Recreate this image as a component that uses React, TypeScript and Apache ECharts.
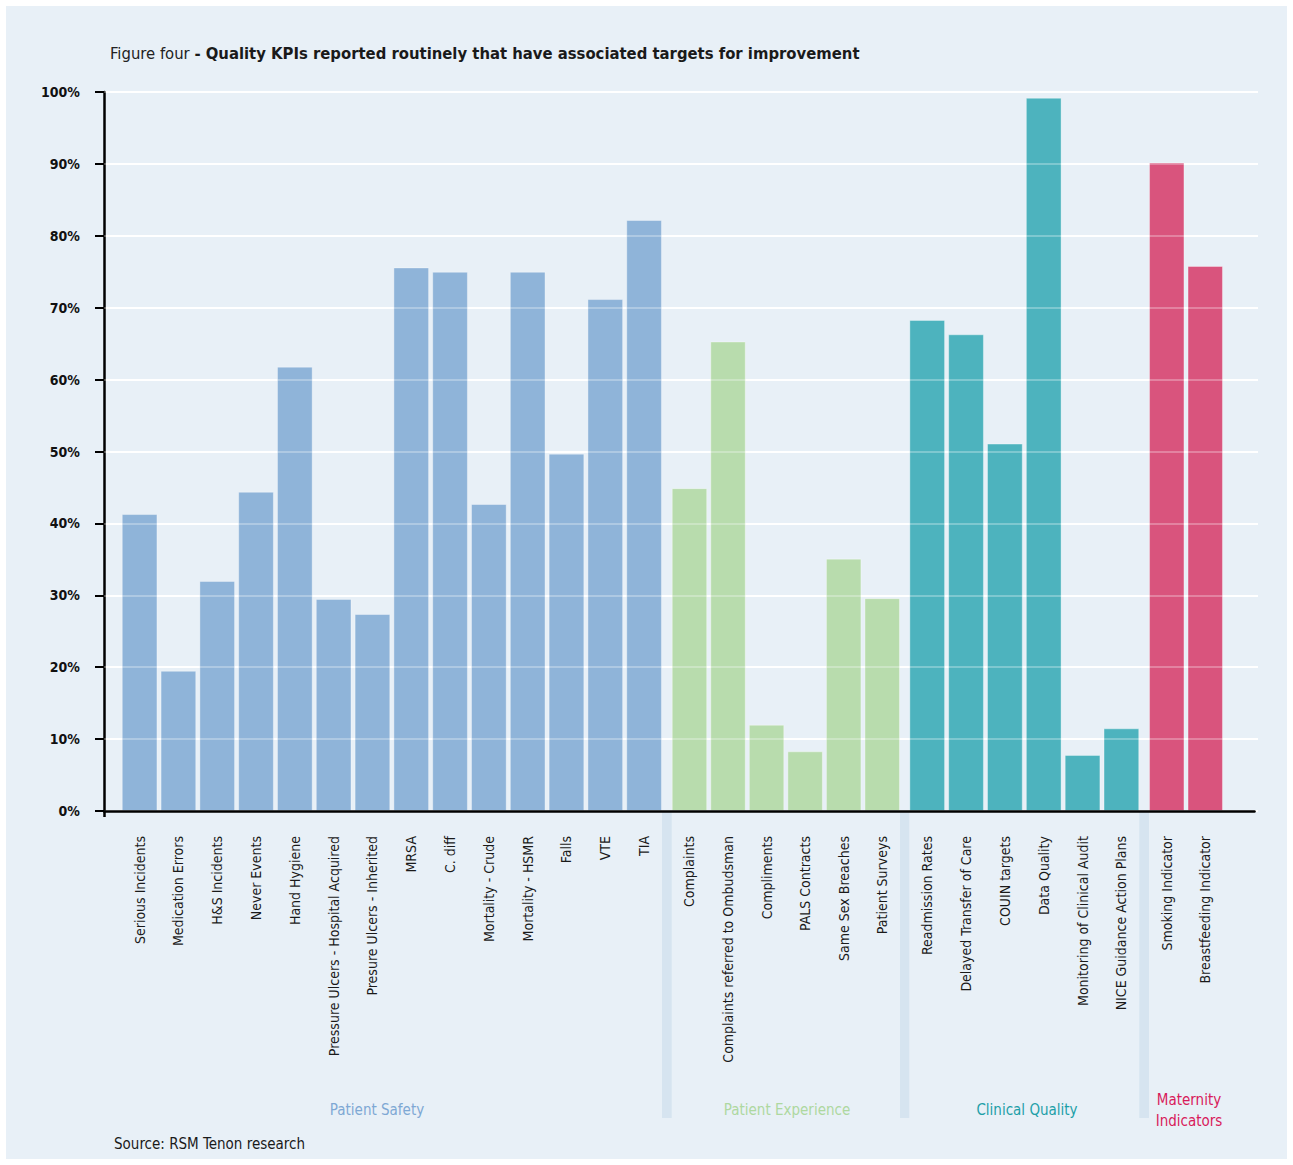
import React, { useEffect, useRef } from "react";
import * as echarts from "echarts";

// Category names and shares (%) per KPI group
const safetyLabels = [
  "Serious Incidents",
  "Medication Errors",
  "H&S Incidents",
  "Never Events",
  "Hand Hygiene",
  "Pressure Ulcers - Hospital Acquired",
  "Presure Ulcers - Inherited",
  "MRSA",
  "C. diff",
  "Mortality - Crude",
  "Mortality - HSMR",
  "Falls",
  "VTE",
  "TIA",
];
const safetyValues = [41.3, 19.5, 32.0, 44.4, 61.8, 29.5, 27.4, 75.6, 75.0, 42.7, 75.0, 49.7, 71.2, 82.2];

const experienceLabels = [
  "Complaints",
  "Complaints referred to Ombudsman",
  "Compliments",
  "PALS Contracts",
  "Same Sex Breaches",
  "Patient Surveys",
];
const experienceValues = [44.9, 65.3, 12.0, 8.3, 35.1, 29.6];

const clinicalLabels = [
  "Readmission Rates",
  "Delayed Transfer of Care",
  "COUIN targets",
  "Data Quality",
  "Monitoring of Clinical Audit",
  "NICE Guidance Action Plans",
];
const clinicalValues = [68.3, 66.3, 51.1, 99.2, 7.8, 11.5];

const maternityLabels = ["Smoking Indicator", "Breastfeeding Indicator"];
const maternityValues = [90.2, 75.8];

const groupNames = ["Patient Safety", "Patient Experience", "Clinical Quality", "Maternity\nIndicators"];
const groupColors = ["#8fb4d9", "#b8dcad", "#4db3be", "#d9547d"];
const groupLabelColors = ["#7ea8d4", "#aed8a0", "#1d9fa8", "#d81b5b"];

const FONT = "'Liberation Sans Narrow','DejaVu Sans Condensed','Roboto Condensed',sans-serif";

const W = 1293;
const H = 1165;
const PLOT_TOP = 92;
const PLOT_BOTTOM = 811;
const AXIS_X = 104;

// horizontal extents of each group's bar strip (left edge, width)
const groupBoxes = [
  { left: 120.2, width: 543.3 },
  { left: 670.2, width: 231.3 },
  { left: 907.8, width: 233.0 },
  { left: 1147.5, width: 77.0 },
];
const groupLabelX = [377, 787, 1027, 1189];

export default function App() {
  const ref = useRef<HTMLDivElement>(null);

  useEffect(() => {
    document.body.style.margin = "0";
    if (!ref.current) return;
    const chart = echarts.init(ref.current, null, { renderer: "svg" });

    const labels = [safetyLabels, experienceLabels, clinicalLabels, maternityLabels];
    const values = [safetyValues, experienceValues, clinicalValues, maternityValues];

    const gridBottom = H - PLOT_BOTTOM;

    const grids: any[] = [
      // main frame: y axis, gridlines
      { left: AXIS_X, right: W - 1258, top: PLOT_TOP, bottom: gridBottom, outerBoundsMode: "none" },
      // x axis baseline
      { left: AXIS_X, right: W - 1254.5, top: PLOT_TOP, bottom: gridBottom, outerBoundsMode: "none" },
    ];
    const xAxes: any[] = [
      { gridIndex: 0, type: "value", min: 0, max: 1, show: false },
      {
        gridIndex: 1,
        type: "value",
        min: 0,
        max: 1,
        z: 6,
        axisLine: { show: true, lineStyle: { color: "#000", width: 2.5 } },
        axisTick: { show: true, customValues: [0], length: 6, lineStyle: { color: "#000", width: 2.5 } },
        axisLabel: { show: false },
        splitLine: { show: false },
      },
    ];
    const yAxes: any[] = [
      {
        gridIndex: 0,
        type: "value",
        min: 0,
        max: 100,
        interval: 10,
        axisLine: { show: true, lineStyle: { color: "#000", width: 2.5 } },
        axisTick: { show: true, inside: false, length: 9, lineStyle: { color: "#000", width: 2 } },
        axisLabel: {
          formatter: "{value}%",
          color: "#111",
          fontSize: 14,
          fontWeight: 600,
          fontFamily: FONT,
          margin: 24,
        },
        splitLine: { show: true, lineStyle: { color: "#ffffff", width: 2 } },
      },
      {
        // faint gridlines drawn over the bars
        gridIndex: 0,
        type: "value",
        min: 0,
        max: 100,
        interval: 10,
        z: 5,
        axisLine: { show: false },
        axisTick: { show: false },
        axisLabel: { show: false },
        splitLine: { show: true, lineStyle: { color: "rgba(255,255,255,0.28)", width: 2 } },
      },
      { gridIndex: 1, type: "value", min: 0, max: 100, show: false },
    ];
    const series: any[] = [];
    const graphics: any[] = [];

    groupBoxes.forEach((box, i) => {
      const gi = grids.length;
      grids.push({
        left: box.left,
        width: box.width,
        top: PLOT_TOP,
        bottom: gridBottom,
        outerBoundsMode: "none",
      });
      xAxes.push({
        gridIndex: gi,
        type: "category",
        data: labels[i],
        axisLine: { show: false },
        axisTick: { show: false },
        splitLine: { show: false },
        axisLabel: {
          interval: 0,
          rotate: 90,
          margin: 25,
          color: "#1a1a1a",
          fontSize: 14,
          fontFamily: FONT,
        },
      });
      yAxes.push({ gridIndex: gi, type: "value", min: 0, max: 100, show: false });
      series.push({
        type: "bar",
        name: groupNames[i],
        xAxisIndex: xAxes.length - 1,
        yAxisIndex: yAxes.length - 1,
        data: values[i],
        barCategoryGap: "8%",
        itemStyle: {
          color: groupColors[i],
          borderColor: "rgba(255,255,255,0.35)",
          borderWidth: 1,
        },
      });

      // vertical separator band below the axis between groups
      if (i < groupBoxes.length - 1) {
        const next = groupBoxes[i + 1];
        const x0 = box.left + box.width - 1.5;
        const x1 = next.left + 1.5;
        graphics.push({
          type: "rect",
          z: 1,
          shape: { x: x0, y: PLOT_BOTTOM + 1, width: x1 - x0, height: 1118 - PLOT_BOTTOM - 1 },
          style: { fill: "#d6e4f0" },
        });
      }

      graphics.push({
        type: "text",
        z: 2,
        x: groupLabelX[i],
        y: 1110,
        style: {
          text: groupNames[i],
          fill: groupLabelColors[i],
          fontSize: 15,
          fontFamily: FONT,
          align: "center",
          verticalAlign: "middle",
          lineHeight: 21,
        },
      });
    });

    graphics.push({
      type: "text",
      x: 114,
      y: 1144,
      style: {
        text: "Source: RSM Tenon research",
        fill: "#1a1a1a",
        fontSize: 15,
        fontFamily: FONT,
        verticalAlign: "middle",
      },
    });

    chart.setOption({
      animation: false,
      title: {
        text: "{a|Figure four }{b|- Quality KPIs reported routinely that have associated targets for improvement}",
        left: 105,
        top: 40,
        textStyle: {
          rich: {
            a: { fontSize: 16.5, fontFamily: FONT, color: "#222", fontWeight: 400 },
            b: { fontSize: 16.5, fontFamily: FONT, color: "#1a1a1a", fontWeight: 700 },
          },
        },
      },
      grid: grids,
      xAxis: xAxes,
      yAxis: yAxes,
      series,
      graphic: graphics,
    });

    return () => chart.dispose();
  }, []);

  return (
    <div style={{ position: "relative", width: W, height: H, background: "#ffffff" }}>
      <div
        style={{
          position: "absolute",
          left: 6,
          top: 6,
          width: W - 12,
          height: H - 12,
          background: "#e8f0f7",
        }}
      />
      <div ref={ref} style={{ position: "absolute", left: 0, top: 0, width: W, height: H }} />
    </div>
  );
}
